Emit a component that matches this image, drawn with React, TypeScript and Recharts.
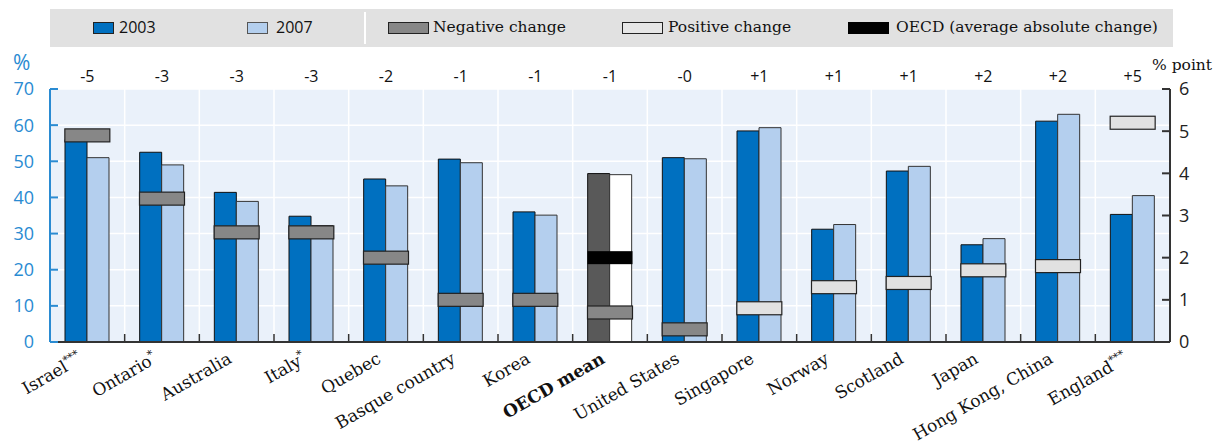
import { Bar, CartesianGrid, Cell, ComposedChart, Scatter, XAxis, YAxis } from "recharts"

const categories = [
  "Israel", "Ontario", "Australia", "Italy", "Quebec", "Basque country", "Korea", "OECD mean",
  "United States", "Singapore", "Norway", "Scotland", "Japan", "Hong Kong, China", "England",
]
const footnotes = ["***", "*", "", "*", "", "", "", "", "", "", "", "", "", "", "***"]
const values2003 = [56, 52.5, 41.4, 34.8, 45.1, 50.6, 36.0, 46.6, 51.0, 58.4, 31.2, 47.3, 26.9, 61.1, 35.3]
const values2007 = [51.0, 49.0, 38.9, 32.2, 43.2, 49.6, 35.1, 46.3, 50.7, 59.3, 32.5, 48.6, 28.6, 63.0, 40.5]
// change between cycles, as printed above the plot and as drawn on the right-hand axis
const changeLabels = ["-5", "-3", "-3", "-3", "-2", "-1", "-1", "-1", "-0", "+1", "+1", "+1", "+2", "+2", "+5"]
const changeSize = [4.9, 3.4, 2.6, 2.6, 2.0, 1.0, 1.0, 0.7, 0.3, 0.8, 1.3, 1.4, 1.7, 1.8, 5.2]
const oecdAverageChange = 2.0
const leftTicks = [0, 10, 20, 30, 40, 50, 60, 70]
const rightTicks = [0, 1, 2, 3, 4, 5, 6]

const data = categories.map((name, i) => ({
  name,
  note: footnotes[i],
  y2003: values2003[i],
  y2007: values2007[i],
  label: changeLabels[i],
  change: changeSize[i],
  oecdAvg: name === "OECD mean" ? oecdAverageChange : null,
}))

const W = 1225
const H = 443
const MARGIN = { top: 59, right: 0, bottom: 0, left: 0 }
const LEFT_W = 50
const RIGHT_W = 55
const BAND = (W - LEFT_W - RIGHT_W) / categories.length

const BLUE = "#2a8bd2"
const SANS = "'Open Sans', sans-serif"
const SERIF = "'DejaVu Serif', serif"

const LeftTick = (props: any) => {
  const { x, y, payload } = props
  return (
    <g>
      <line x1={x + 16} x2={x + 24} y1={y} y2={y} stroke={BLUE} strokeWidth={2} />
      <text x={x} y={y} dy="0.36em" textAnchor="end" fill={BLUE} fontSize={18} fontFamily={SANS}>
        {payload.value}
      </text>
    </g>
  )
}

const RightTick = (props: any) => {
  const { x, y, payload } = props
  return (
    <g>
      <line x1={x - 9} x2={x - 17} y1={y} y2={y} stroke="#333" strokeWidth={2} />
      <text x={x} y={y} dy="0.36em" textAnchor="start" fill="#222" fontSize={18} fontFamily={SANS}>
        {payload.value}
      </text>
    </g>
  )
}

const ChangeTick = (props: any) => {
  const { x, y, index } = props
  return (
    <text x={x} y={y - 7} textAnchor="middle" fill="#111" fontSize={16} fontFamily={SANS}>
      {changeLabels[index]}
    </text>
  )
}

const CategoryTick = (props: any) => {
  const { x, y, payload, index } = props
  const note = footnotes[index]
  const bold = payload.value === "OECD mean"
  return (
    <g>
      {index < categories.length - 1 && (
        <line x1={x + BAND / 2} x2={x + BAND / 2} y1={y} y2={y - 8} stroke="#333" strokeWidth={1.5} />
      )}
      <text
        transform={`translate(${x - 4},${y + 20}) rotate(-30)`}
        textAnchor="end"
        fill="#111"
        fontSize={17}
        fontWeight={bold ? "bold" : "normal"}
        fontFamily={SERIF}
      >
        {payload.value}
        {note && (
          <tspan fontSize={11} dy={-7}>
            {note}
          </tspan>
        )}
      </text>
    </g>
  )
}

const ChangeBox = (props: any) => {
  const { cx, cy, payload } = props
  if (cx == null || cy == null || !Number.isFinite(cy)) return null
  const negative = payload.label.startsWith("-")
  return (
    <rect x={cx - 22.5} y={cy - 6.5} width={45} height={13} fill={negative ? "#878787" : "#e1e1e1"} stroke="#222" strokeWidth={1.2} />
  )
}

const OecdBox = (props: any) => {
  const { cx, cy } = props
  if (cx == null || cy == null || !Number.isFinite(cy)) return null
  return <rect x={cx - 22.5} y={cy - 6.5} width={45} height={13} fill="#000" />
}

const swatch = (left: number, width: number, fill: string, border = "#222") => (
  <div
    style={{
      position: "absolute",
      left,
      top: 22,
      width,
      height: 10,
      background: fill,
      border: `1px solid ${border}`,
    }}
  />
)

const legendText = (left: number, text: string, font: string) => (
  <div
    style={{
      position: "absolute",
      left,
      top: 9,
      height: 36,
      lineHeight: "36px",
      fontSize: font === SANS ? 16 : 15.5,
      fontFamily: font,
      color: "#111",
      whiteSpace: "nowrap",
    }}
  >
    {text}
  </div>
)

export default function App() {
  return (
    <div style={{ position: "absolute", left: 0, top: 0, width: W, height: H, background: "#fff" }}>
      <div style={{ position: "absolute", left: 50, top: 9, width: 1123, height: 38, background: "#e1e1e1" }} />
      <div style={{ position: "absolute", left: 364, top: 12, width: 2, height: 32, background: "#fff" }} />
      {swatch(93, 19, "#0070c0")}
      {legendText(119, "2003", SANS)}
      {swatch(247, 19, "#b4cfee", "#555")}
      {legendText(276, "2007", SANS)}
      {swatch(388, 39, "#878787")}
      {legendText(433, "Negative change", SERIF)}
      {swatch(622, 39, "#e6e6e6")}
      {legendText(668, "Positive change", SERIF)}
      {swatch(848, 39, "#000", "#000")}
      {legendText(896, "OECD (average absolute change)", SERIF)}

      <div style={{ position: "absolute", left: 13, top: 48, fontSize: 21, fontFamily: SANS, color: BLUE }}>%</div>
      <div style={{ position: "absolute", left: 1152, top: 56, fontSize: 15.5, fontFamily: SERIF, color: "#111", whiteSpace: "nowrap" }}>
        % point
      </div>

      <div style={{ position: "absolute", left: 0, top: 0 }}>
        <ComposedChart width={W} height={H} data={data} margin={MARGIN} barGap={0}>
          <CartesianGrid
            xAxisId="main"
            yAxisId="left"
            fill="#eaf1fa"
            fillOpacity={1}
            stroke="#ffffff"
            strokeWidth={1.5}
            verticalCoordinatesGenerator={({ offset }: any) =>
              categories.slice(1).map((_, i) => offset.left + ((i + 1) * offset.width) / categories.length)
            }
          />
          <Bar xAxisId="main" yAxisId="left" dataKey="y2003" barSize={22} fill="#0070c0" stroke="#111" strokeWidth={1} isAnimationActive={false}>
            {data.map((d) => (
              <Cell key={d.name} fill={d.name === "OECD mean" ? "#595959" : "#0070c0"} />
            ))}
          </Bar>
          <Bar xAxisId="main" yAxisId="left" dataKey="y2007" barSize={22} fill="#b4cfee" stroke="#333" strokeWidth={1} isAnimationActive={false}>
            {data.map((d) => (
              <Cell key={d.name} fill={d.name === "OECD mean" ? "#ffffff" : "#b4cfee"} />
            ))}
          </Bar>
          <Scatter xAxisId="main" yAxisId="right" dataKey="change" shape={<ChangeBox />} isAnimationActive={false} />
          <Scatter xAxisId="top" yAxisId="right" dataKey="oecdAvg" shape={<OecdBox />} isAnimationActive={false} />
          <XAxis
            xAxisId="main"
            dataKey="name"
            height={101}
            interval={0}
            tickLine={false}
            tickSize={0}
            tickMargin={0}
            axisLine={{ stroke: "#333", strokeWidth: 2 }}
            tick={<CategoryTick />}
          />
          <XAxis
            xAxisId="top"
            orientation="top"
            dataKey="name"
            height={30}
            interval={0}
            axisLine={false}
            tickLine={false}
            tickSize={0}
            tickMargin={0}
            tick={<ChangeTick />}
          />
          <YAxis
            yAxisId="left"
            width={LEFT_W}
            domain={[0, 70]}
            ticks={leftTicks}
            interval={0}
            tickLine={false}
            tickSize={0}
            tickMargin={16}
            axisLine={{ stroke: BLUE, strokeWidth: 2 }}
            tick={<LeftTick />}
          />
          <YAxis
            yAxisId="right"
            orientation="right"
            width={RIGHT_W}
            domain={[0, 6]}
            ticks={rightTicks}
            interval={0}
            tickLine={false}
            tickSize={0}
            tickMargin={9}
            axisLine={{ stroke: "#333", strokeWidth: 2 }}
            tick={<RightTick />}
          />
        </ComposedChart>
      </div>
    </div>
  )
}
